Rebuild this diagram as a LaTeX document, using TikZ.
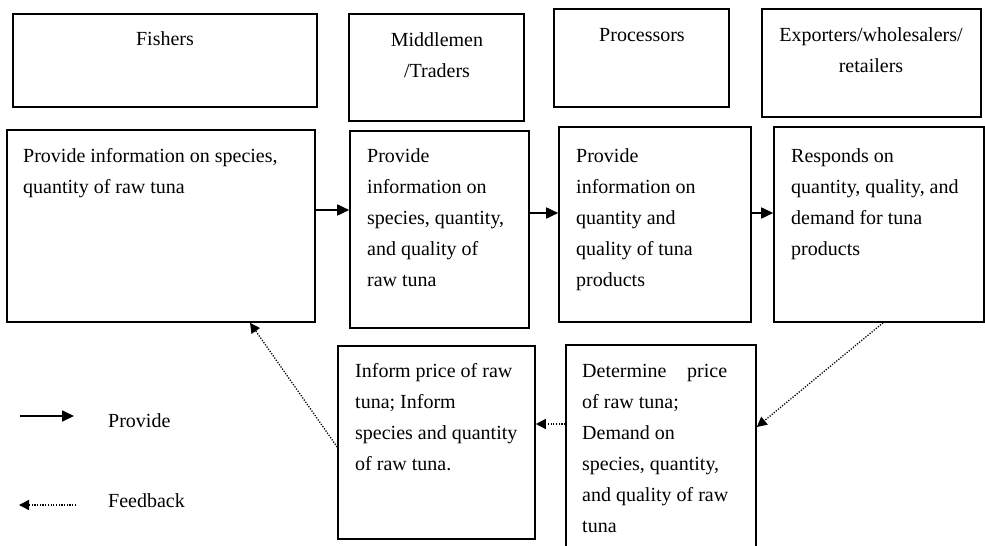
\documentclass[tikz,border=0pt]{standalone}
\usepackage{fontspec}
\setmainfont{Liberation Serif}
\usetikzlibrary{arrows.meta,fit}

\begin{document}
\begin{tikzpicture}[x=1pt,y=-1pt,
  box/.style={draw, line width=1.6pt, inner sep=0pt},
  % multi-line texts are placed by the baseline of their last line
  txt/.style={inner sep=0pt, align=left, anchor=base west,
              font={\fontsize{20}{31}\selectfont}},
  ttl/.style={inner sep=0pt, align=center, anchor=base,
              font={\fontsize{20}{31}\selectfont}},
  prov/.style={line width=1.7pt, -{Triangle[length=12pt,width=11pt]}},
  feed/.style={line width=1.3pt, dash pattern=on 1.2pt off 1.5pt,
               -{Triangle[length=10pt,width=10pt]}}]

\path[use as bounding box] (0,0) rectangle (985,546);
\clip (0,0) rectangle (985,546);

% actor headings
\node[box, fit={(13,14) (317,107)}] (fishT) {};
\node[box, fit={(349,14) (524,121)}] (midT) {};
\node[box, fit={(554,9) (729,107)}] (procT) {};
\node[box, fit={(762,9) (981,117)}] (expT) {};
\node[ttl] (fishL) at (165,45) {Fishers};
\node[ttl] (midL) at (437,77) {Middlemen\\/Traders};
\node[ttl] (procL) at (642,41) {Processors};
\node[ttl] (expL) at (871,72) {Exporters/wholesalers/\\retailers};

% information boxes
\node[box, fit={(7,130) (315,322)}] (fishB) {};
\node[box, fit={(350,131) (529,328)}] (midB) {};
\node[box, fit={(559,127) (751,322)}] (procB) {};
\node[box, fit={(774,127) (984,322)}] (expB) {};
\node[txt] (fishX) at (23,193) {Provide information on species,\\quantity of raw tuna};
\node[txt] (midX) at (367,286) {Provide\\information on\\species, quantity,\\and quality of\\raw tuna};
\node[txt] (procX) at (576,286) {Provide\\information on\\quantity and\\quality of tuna\\products};
\node[txt] (expX) at (791,255) {Responds on\\quantity, quality, and\\demand for tuna\\products};

% feedback boxes
\node[box, fit={(338,346) (535,539)}] (infB) {};
\node[box, fit={(566,345) (756,562)}] (detB) {};
\node[txt] (infX) at (355,470) {Inform price of raw\\tuna; Inform\\species and quantity\\of raw tuna.};
\node[txt] (detX) at (582,532) {\hbox to 145pt{Determine\hfill price}\\of raw tuna;\\Demand on\\species, quantity,\\and quality of raw\\tuna};

% connector heights and offsets
\coordinate (ya) at (0,210);
\coordinate (yb) at (0,213);
\coordinate (yc) at (0,427);
\coordinate (yd) at (0,424);
\coordinate (ye) at (0,447);
\coordinate (xa) at (883,0);
\coordinate (xb) at (250,0);

% provide flows
\draw[prov] (fishB.east |- ya) -- (midB.west |- ya);
\draw[prov] (midB.east |- yb) -- (procB.west |- yb);
\draw[prov] (procB.east |- yb) -- (expB.west |- yb);

% feedback flows
\draw[feed] (expB.south -| xa) -- (detB.east |- yc);
\draw[feed] (detB.west |- yd) -- (infB.east |- yd);
\draw[feed] (infB.west |- ye) -- (fishB.south -| xb);

% legend
\coordinate (lp1) at (20,416);
\coordinate (lp2) at (74,416);
\coordinate (lf1) at (76,505);
\coordinate (lf2) at (19,505);
\draw[prov] (lp1) -- (lp2);
\draw[feed] (lf1) -- (lf2);
\node[txt] (legP) at (108,427) {Provide};
\node[txt] (legF) at (108,507) {Feedback};
\end{tikzpicture}
\end{document}
